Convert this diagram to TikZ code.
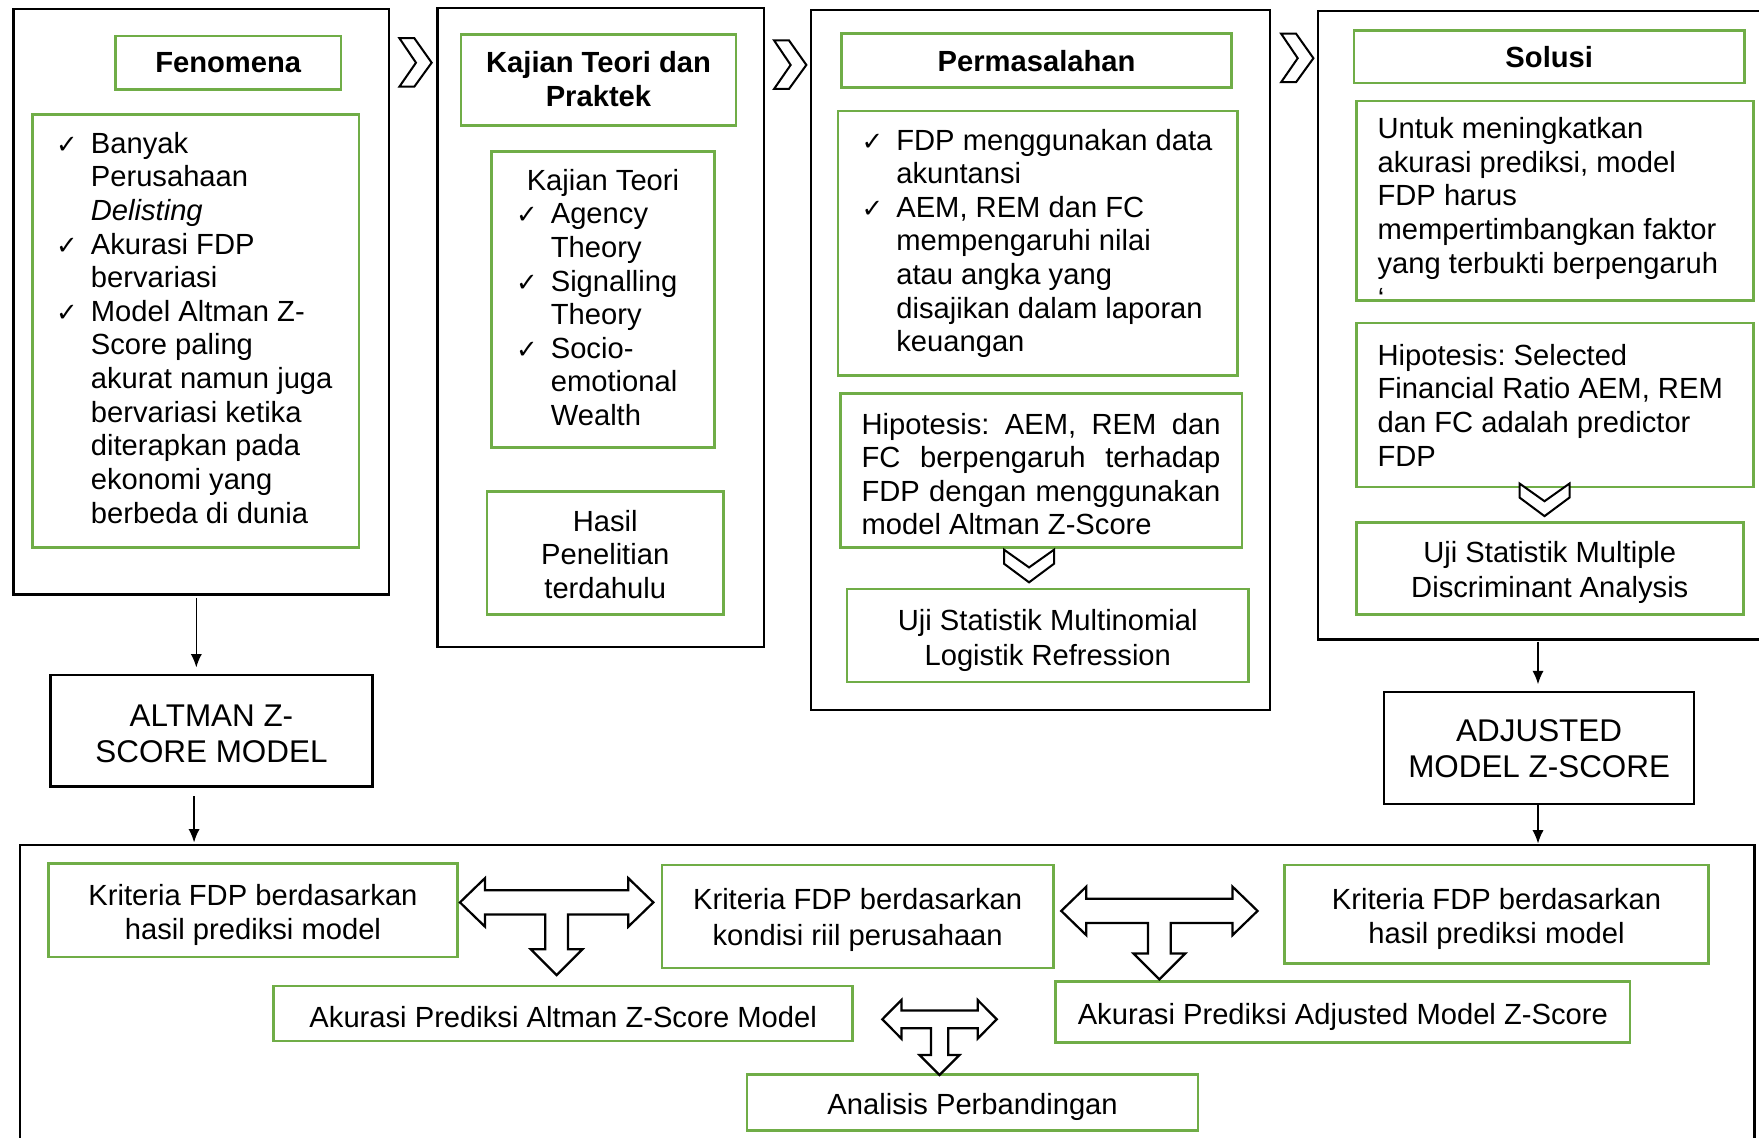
\documentclass[tikz,border=0pt]{standalone}
\usepackage{fontspec}
\setmainfont{Liberation Sans}
\newfontfamily\djv{DejaVu Sans}
\usetikzlibrary{arrows.meta}
\definecolor{ggreen}{RGB}{112,173,71}
\newcommand\fs{\fontsize{26}{30}\selectfont\frenchspacing}
\newcommand\fsb{\fontsize{26}{31}\selectfont\frenchspacing}
\newcommand\fsl{\fontsize{28}{32}\selectfont\frenchspacing}
\newcommand\ck{\makebox[31pt][l]{\djv\fontsize{23}{23}\selectfont ✓}}
\newcommand\ind{\hspace*{31pt}}
\newcommand\jline[1]{\makebox[320pt][s]{#1}}
% first-line strut (pushes text down) and last-line depth (pushes text up)
\newcommand\sd[1]{\rule{0pt}{#1pt}}
\newcommand\su[1]{\rule[-#1pt]{0pt}{0pt}}
\tikzset{
  bx/.style={draw=black, line width=2pt, inner sep=0pt, outer sep=0pt, anchor=north west, font=\fs},
  gb/.style={draw=ggreen, line width=2.4pt, inner sep=0pt, outer sep=0pt, anchor=north west, font=\fs},
  sz/.style 2 args={minimum width=#1pt, minimum height=#2pt},
  chev/.style={draw=black, line width=1.8pt, fill=white, line join=miter},
  tarr/.style={draw=black, line width=2pt, fill=white, line join=miter},
  arr/.style={draw=black, line width=1.4pt, -{Latex[length=12pt,width=10pt]}},
}
\newcommand\chevR[2]{\draw[chev, shift={(#1,#2)}] (0,0) -- (13.3,0) -- (28.8,21.9) -- (13.3,43.3) -- (0,43.3) -- (14.8,21.9) -- cycle;}
\newcommand\chevD[2]{\draw[chev, shift={(#1,#2)}] (0,0) -- (0,12.5) -- (22.3,29.1) -- (44.6,12.5) -- (44.6,0) -- (22.3,15.8) -- cycle;}
\newcommand\Tarrow[9]{\draw[tarr, shift={(#1,#2)}]
  (-#3,0) -- (-#3+#4,-#5) -- (-#3+#4,-#6) -- (#3-#4,-#6) -- (#3-#4,-#5) -- (#3,0)
  -- (#3-#4,#5) -- (#3-#4,#6) -- (#7,#6) -- (#7,#8) -- (#9,#8) -- (0,#8+#9)
  -- (-#9,#8) -- (-#7,#8) -- (-#7,#6) -- (-#3+#4,#6) -- (-#3+#4,#5) -- cycle;}
\begin{document}
\begin{tikzpicture}[x=1pt,y=-1pt]
\useasboundingbox (0,0) rectangle (1568,1014);

% ---------- column 1 ----------
\node[bx, sz={335}{522}] (c1) at (12,8) {};
\node[gb, sz={201}{48}] (fen) at (103,32) {\textbf{Fenomena}};
\node[gb, sz={291}{386}, text width=249pt, align=flush left] (fenlist) at (29,102) {%
\ck\mbox{Banyak}\\
\ind\mbox{Perusahaan}\\
\ind\mbox{\textit{Delisting}}\\
\ck\mbox{Akurasi FDP}\\
\ind\mbox{bervariasi}\\
\ck\mbox{Model Altman Z-}\\
\ind\mbox{Score paling}\\
\ind\mbox{akurat namun juga}\\
\ind\mbox{bervariasi ketika}\\
\ind\mbox{diterapkan pada}\\
\ind\mbox{ekonomi yang}\\
\ind\mbox{berbeda di dunia}\su{6}};
\node[bx, sz={287}{99}, align=flush center, font=\fsl] (altman) at (45,602) {\sd{24}ALTMAN Z-\\SCORE MODEL};

% ---------- column 2 ----------
\node[bx, sz={291}{570}] (c2) at (390,7) {};
\node[gb, sz={245}{81}, align=flush center] (ktp) at (411,31) {\textbf{Kajian Teori dan}\\\textbf{Praktek}\su{2}};
\node[gb, sz={199}{264}, text width=155pt, align=flush left] (ktlist) at (438,135) {%
\makebox[155pt][c]{Kajian Teori}\\
\ck\mbox{Agency}\\
\ind\mbox{Theory}\\
\ck\mbox{Signalling}\\
\ind\mbox{Theory}\\
\ck\mbox{Socio-}\\
\ind\mbox{emotional}\\
\ind\mbox{Wealth}\su{4}};
\node[gb, sz={211}{110}, align=flush center] (hasil) at (434,438) {\sd{21}Hasil\\Penelitian\\terdahulu};

% ---------- column 3 ----------
\node[bx, sz={409}{624}] (c3) at (723,9) {};
\node[gb, sz={348}{48}] (perm) at (750,30) {\textbf{Permasalahan}};
\node[gb, sz={356}{236}, text width=314pt, align=flush left] (permlist) at (747,99) {%
\ck\mbox{FDP menggunakan data}\\
\ind\mbox{akuntansi}\\
\ck\mbox{AEM, REM dan FC}\\
\ind\mbox{mempengaruhi nilai}\\
\ind\mbox{atau angka yang}\\
\ind\mbox{disajikan dalam laporan}\\
\ind\mbox{keuangan}};
\node[gb, sz={358}{137}, text width=320pt, align=flush left] (hip3) at (749,351) {%
\jline{\sd{25}Hipotesis: AEM, REM dan}\\
\jline{FC berpengaruh terhadap}\\
\jline{FDP dengan menggunakan}\\
\mbox{model Altman Z-Score}};
\node[gb, sz={358}{83}, align=flush center, font=\fsb] (uji3) at (755,525) {\sd{27}Uji Statistik Multinomial\\Logistik Refression};

% ---------- column 4 ----------
\node[bx, sz={400}{560}] (c4) at (1175,10) {};
\node[gb, sz={348}{47}] (sol) at (1207,27) {\textbf{Solusi}};
\node[gb, sz={354}{178}, text width=316pt, align=flush left] (untuk) at (1209,90) {%
\mbox{Untuk meningkatkan}\\
\mbox{akurasi prediksi, model}\\
\mbox{FDP harus}\\
\mbox{mempertimbangkan faktor}\\
\mbox{yang terbukti berpengaruh}\su{10}};
\node[anchor=west, inner sep=0pt, font=\fs] (grv) at (1228,266) {`};
\node[gb, sz={354}{146}, text width=316pt, align=flush left] (hip4) at (1209,288) {%
\mbox{Hipotesis: Selected}\\
\mbox{Financial Ratio AEM, REM}\\
\mbox{dan FC adalah predictor}\\
\mbox{FDP}};
\node[gb, sz={345}{82}, align=flush center, font=\fsb] (uji4) at (1209,466) {\sd{25}Uji Statistik Multiple\\Discriminant Analysis};
\node[bx, sz={276}{100}, align=flush center, font=\fsl] (adj) at (1234,617) {ADJUSTED\\MODEL Z-SCORE};

% ---------- chevrons ----------
\chevR{356}{34}
\chevR{690}{36}
\chevR{1142}{30}
\chevD{895}{490}
\chevD{1354.5}{431}

% ---------- bottom box ----------
\node[bx, sz={1546}{290}] (bot) at (18,753) {};
\node[gb, sz={365}{83}, align=flush center, font=\fsb] (kA) at (43,770) {\sd{27}Kriteria FDP berdasarkan\\hasil prediksi model};
\node[gb, sz={349}{92}, align=flush center, font=\fontsize{26}{32}\selectfont] (kB) at (590,771) {\sd{25}Kriteria FDP berdasarkan\\kondisi riil perusahaan};
\node[gb, sz={378}{88}, align=flush center, font=\fsb] (kC) at (1145,771) {\sd{27}Kriteria FDP berdasarkan\\hasil prediksi model};
\node[gb, sz={516}{49}] (akA) at (244,879) {\sd{25}Akurasi Prediksi Altman Z-Score Model};
\node[gb, sz={512}{54}] (akB) at (941,875) {\sd{27}Akurasi Prediksi Adjusted Model Z-Score};
\node[gb, sz={402}{50}] (anal) at (666,958) {\sd{27}Analisis Perbandingan};

\Tarrow{496.2}{804.4}{86.2}{22.3}{21.6}{10.8}{10.1}{41.8}{23}
\Tarrow{1033.5}{812}{87.5}{22.3}{21.6}{10.8}{10.1}{38}{23}
\Tarrow{837.5}{908.6}{51}{17}{17.2}{7.9}{7.7}{31.9}{17.8}

% ---------- connectors ----------
\coordinate (ax1) at (175,0);
\coordinate (ax2) at (173,0);
\coordinate (ax3) at (1371,0);
\draw[arr, shorten <=3pt, shorten >=7pt] (c1.south -| ax1) -- (altman.north -| ax1);
\draw[arr, shorten <=9pt, shorten >=2pt] (altman.south -| ax2) -- (bot.north -| ax2);
\draw[arr, shorten <=2pt, shorten >=7pt] (c4.south -| ax3) -- (adj.north -| ax3);
\draw[arr, shorten >=1pt] (adj.south -| ax3) -- (bot.north -| ax3);
\end{tikzpicture}
\end{document}
